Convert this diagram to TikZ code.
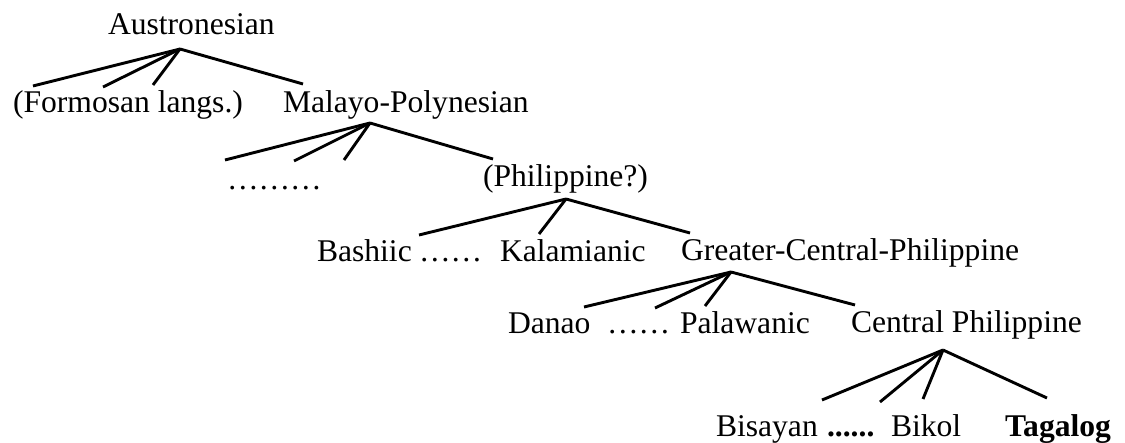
\documentclass[tikz,border=0pt]{standalone}
\usepackage{fontspec}
\setmainfont{Liberation Serif}
\begin{document}
\begin{tikzpicture}[x=1pt,y=-1pt,
  lbl/.style={anchor=base west,inner sep=0pt,outer sep=0pt,font=\fontsize{31.6}{38}\selectfont},
  boldlbl/.style={lbl,font=\fontsize{31.6}{38}\selectfont\bfseries},
  branch/.style={line width=2.9pt,line cap=butt}]
\useasboundingbox (0,0) rectangle (1125,443);
% labels
\node[lbl] (aus) at (108,35) {Austronesian};
\node[lbl] (for) at (13,113) {(Formosan langs.)};
\node[lbl] (mp) at (283,113) {Malayo-Polynesian};
\node[lbl] (d1) at (227,190) {………};
\node[lbl] (phi) at (483,187) {(Philippine?)};
\node[lbl] (bas) at (317,262) {Bashiic};
\node[lbl] (d2) at (419,262) {……};
\node[lbl] (kal) at (500,262) {Kalamianic};
\node[lbl] (gcp) at (681,261) {Greater-Central-Philippine};
\node[lbl] (dan) at (508,334) {Danao};
\node[lbl] (d3) at (607,334) {……};
\node[lbl] (pal) at (680,334) {Palawanic};
\node[lbl] (cp) at (851,333) {Central Philippine};
\node[lbl] (bis) at (716,437) {Bisayan};
\node[boldlbl] (d4) at (827,437) {......};
\node[lbl] (bik) at (891,437) {Bikol};
\node[boldlbl] (tag) at (1005,437) {Tagalog};
% apices
\coordinate (a1) at (180,49);
\coordinate (a2) at (370,123);
\coordinate (a3) at (566,199);
\coordinate (a4) at (731,272);
\coordinate (a5) at (943,350);
% branch ends
\coordinate (e11) at (33,86);
\coordinate (e12) at (103,87);
\coordinate (e13) at (153,85);
\coordinate (e14) at (303,84);
\coordinate (e21) at (225,160);
\coordinate (e22) at (294,161);
\coordinate (e23) at (344,160);
\coordinate (e24) at (493,159);
\coordinate (e31) at (419,235);
\coordinate (e32) at (539,234);
\coordinate (e33) at (690,233);
\coordinate (e41) at (584,307);
\coordinate (e42) at (655,308);
\coordinate (e43) at (705,306);
\coordinate (e44) at (855,305);
\coordinate (e51) at (822,400);
\coordinate (e52) at (880,402);
\coordinate (e53) at (923,399);
\coordinate (e54) at (1047,398);
% branches
\foreach \i in {1,...,4} \draw[branch] (a1) -- (e1\i);
\foreach \i in {1,...,4} \draw[branch] (a2) -- (e2\i);
\foreach \i in {1,...,3} \draw[branch] (a3) -- (e3\i);
\foreach \i in {1,...,4} \draw[branch] (a4) -- (e4\i);
\foreach \i in {1,...,4} \draw[branch] (a5) -- (e5\i);
\end{tikzpicture}
\end{document}
